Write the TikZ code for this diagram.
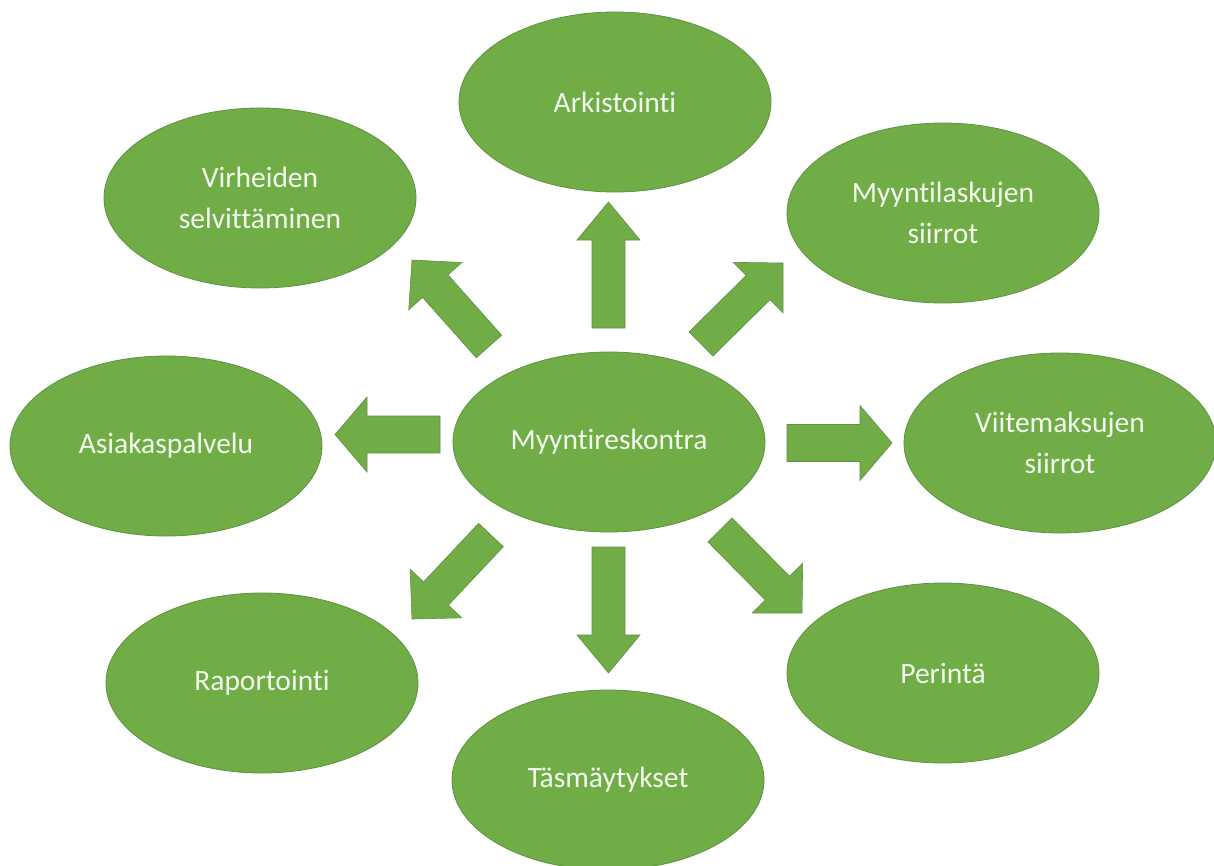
\documentclass[tikz,border=0pt]{standalone}
\usepackage{fontspec}
\setmainfont[Ligatures=NoCommon]{Carlito}
\usetikzlibrary{shapes.geometric,calc}
\definecolor{gfill}{HTML}{70AD47}
\definecolor{gline}{HTML}{5E9140}
\definecolor{gtext}{HTML}{F4FAF0}
\tikzset{
  bubble/.style={ellipse, fill=gfill, draw=gline, line width=0.8pt, inner sep=0pt,
    minimum width=312pt, minimum height=180pt, text=gtext, align=center,
    font=\fontsize{29.5}{41}\selectfont},
  blockarrow/.style={fill=gfill, draw=gline, line width=0.6pt}
}
% #1 start, #2 tip, #3 shaft half width, #4 head half width, #5 head length
\newcommand{\blockarr}[5]{%
  \path ($(#2)!#5!(#1)$) coordinate (hb);
  \draw[blockarrow] ($(#1)!#3!90:(#2)$) -- ($(hb)!#3!-90:(#1)$) -- ($(hb)!#4!-90:(#1)$) -- (#2)
    -- ($(hb)!#4!90:(#1)$) -- ($(hb)!#3!90:(#1)$) -- ($(#1)!#3!-90:(#2)$) -- cycle;}
\begin{document}
\begin{tikzpicture}[x=1pt,y=-1pt]
\useasboundingbox (0,0) rectangle (1214,865);
\node[bubble] (ark) at (615,102) {Arkistointi};
\node[bubble] (vir) at (260,198) {Virheiden\\selvittäminen};
\node[bubble] (myl) at (943,213) {Myyntilaskujen\\siirrot};
\node[bubble] (asi) at (166,446) {Asiakaspalvelu};
\node[bubble] (myr) at (609,442) {Myyntireskontra};
\node[bubble] (vii) at (1060,443) {Viitemaksujen\\siirrot};
\node[bubble] (rap) at (262,683) {Raportointi};
\node[bubble] (tas) at (608,780) {Täsmäytykset};
\node[bubble] (per) at (943,673) {Perintä};
% arrow end points
\coordinate (uA) at (608.5,328); \coordinate (uB) at (608.5,202);
\coordinate (dA) at (608.5,547); \coordinate (dB) at (608.5,673);
\coordinate (lA) at (440,434.5); \coordinate (lB) at (335,434.5);
\coordinate (rA) at (787,443);   \coordinate (rB) at (892,443);
\coordinate (ulA) at (489,346.5); \coordinate (ulB) at (412,260);
\coordinate (urA) at (701,344);   \coordinate (urB) at (783,263);
\coordinate (llA) at (491,535);   \coordinate (llB) at (412,619);
\coordinate (lrA) at (720,530);   \coordinate (lrB) at (802,613);
\blockarr{uA}{uB}{16.5pt}{31.5pt}{38pt}
\blockarr{dA}{dB}{16.5pt}{31.5pt}{38pt}
\blockarr{lA}{lB}{18.5pt}{37.5pt}{32pt}
\blockarr{rA}{rB}{18.5pt}{37.5pt}{32pt}
\blockarr{ulA}{ulB}{17pt}{35.5pt}{35pt}
\blockarr{urA}{urB}{17pt}{35.5pt}{35pt}
\blockarr{llA}{llB}{17pt}{35.5pt}{35pt}
\blockarr{lrA}{lrB}{17pt}{35.5pt}{35pt}
\end{tikzpicture}
\end{document}
